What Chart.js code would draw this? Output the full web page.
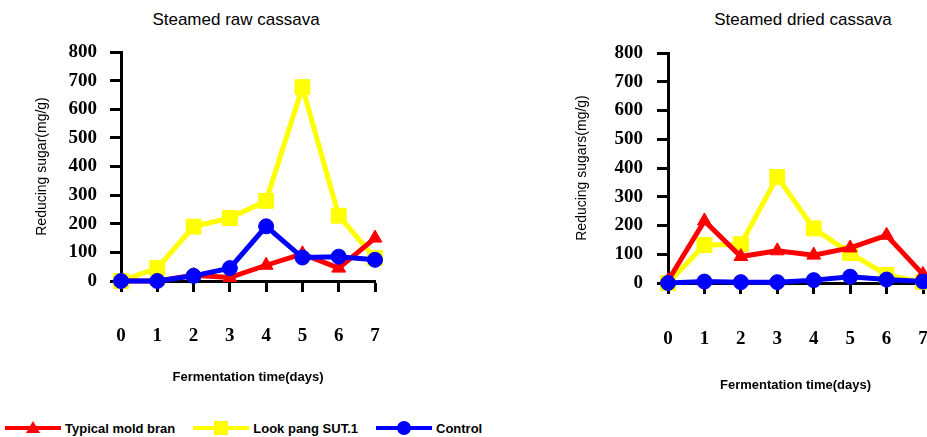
<!DOCTYPE html>
<html>
<head>
<meta charset="utf-8">
<title>Reducing sugar during fermentation</title>
<script src="https://cdn.jsdelivr.net/npm/chart.js@4.4.0/dist/chart.umd.min.js"></script>
<style>
    body { margin: 0; background: #fff; }
    #page {
        position: relative;
        width: 927px;
        height: 437px;
        overflow: hidden;
        font-family: "Liberation Sans", Arial, sans-serif;
        color: #000;
    }
    canvas { position: absolute; top: 0; }
    #rawChart { left: 0; }
    #driedChart { left: 527px; }
    .chart-title {
        position: absolute;
        top: 10px;
        line-height: 20px;
        font-size: 17px;
        white-space: nowrap;
        transform: translateX(-50%);
    }
    #rawTitle { left: 236px; }
    #driedTitle { left: 803px; }
    #legend {
        position: absolute;
        left: 5px;
        top: 419px;
        height: 18px;
        display: flex;
        align-items: center;
        font-size: 13px;
        font-weight: bold;
    }
    .legend-item { display: flex; align-items: center; margin-right: 18px; }
    .legend-item svg { margin-right: 4px; }
</style>
</head>
<body>
<div id="page">
    <div class="chart-title" id="rawTitle">Steamed raw cassava</div>
    <div class="chart-title" id="driedTitle">Steamed dried cassava</div>
    <canvas id="rawChart" width="470" height="400"></canvas>
    <canvas id="driedChart" width="400" height="400"></canvas>
    <div id="legend"></div>
</div>

<script>
// Data
const days = ['0', '1', '2', '3', '4', '5', '6', '7'];

const seriesNames = ['Typical mold bran', 'Look pang SUT.1', 'Control'];
const seriesColors = ['#ff0000', '#ffff00', '#0000ff'];
const seriesMarkers = ['triangle', 'rect', 'circle'];

// Steamed raw cassava
const rawMoldBran = [0, 0, 20, 12, 55, 95, 45, 150];
const rawLookPang = [0, 45, 190, 220, 280, 677, 228, 80];
const rawControl = [0, 0, 18, 45, 191, 82, 85, 74];

// Steamed dried cassava
const driedMoldBran = [8, 216, 92, 112, 97, 122, 166, 30];
const driedLookPang = [0, 132, 135, 369, 190, 104, 28, 3];
const driedControl = [0, 5, 3, 3, 10, 22, 12, 5];

const yMin = 0;
const yMax = 800;
const yStep = 100;

// Styling
const markerRadius = [8, 10.5, 7.5];
const drawOrder = [1, 2, 0]; // blue on top, yellow at the bottom

const tickFont = { family: '"Liberation Serif", "Times New Roman", serif', weight: 'bold', size: 19 };
const sansFont = '"Liberation Sans", Arial, sans-serif';

function buildChart(id, values, yTitle, layout) {
    const ctx = document.getElementById(id).getContext('2d');
    return new Chart(ctx, {
        type: 'line',
        data: {
            labels: days,
            datasets: seriesNames.map((name, i) => ({
                label: name,
                data: values[i],
                borderColor: seriesColors[i],
                backgroundColor: seriesColors[i],
                pointBackgroundColor: seriesColors[i],
                pointBorderColor: seriesColors[i],
                pointStyle: seriesMarkers[i],
                pointRadius: markerRadius[i],
                pointBorderWidth: 1,
                borderWidth: 5,
                tension: 0,
                clip: false,
                order: drawOrder[i]
            }))
        },
        options: {
            responsive: false,
            animation: false,
            events: [],
            layout: {
                autoPadding: false,
                padding: { top: layout.top, right: layout.right, left: 0, bottom: 0 }
            },
            plugins: {
                legend: { display: false },
                tooltip: { enabled: false }
            },
            scales: {
                x: {
                    grid: { drawOnChartArea: false, tickLength: 11, tickWidth: 3, tickColor: '#000' },
                    border: { color: '#000', width: 3 },
                    ticks: { color: '#000', font: tickFont, padding: layout.xTickPad, maxRotation: 0, autoSkip: false },
                    title: {
                        display: true,
                        text: 'Fermentation time(days)',
                        color: '#000',
                        font: { family: sansFont, size: 13, weight: 'bold' },
                        padding: { top: 0, bottom: layout.xTitlePad }
                    },
                    afterFit: scale => {
                        // the big tick padding would otherwise be added left and right too
                        scale.height = layout.height - layout.bottom;
                        scale.paddingLeft = 0;
                        scale.paddingRight = 0;
                    }
                },
                y: {
                    min: yMin,
                    max: yMax,
                    grid: { drawOnChartArea: false, tickLength: 11, tickWidth: 3, tickColor: '#000' },
                    border: { color: '#000', width: 3 },
                    ticks: { stepSize: yStep, color: '#000', font: tickFont, padding: layout.yTickPad },
                    title: {
                        display: true,
                        text: yTitle,
                        color: '#000',
                        font: { family: sansFont, size: 14 },
                        padding: { top: layout.yTitlePad, bottom: 0 }
                    },
                    afterFit: scale => { scale.width = layout.left; }
                }
            }
        }
    });
}

buildChart('rawChart', [rawMoldBran, rawLookPang, rawControl], 'Reducing sugar(mg/g)', {
    height: 400, top: 52, bottom: 281, left: 121, right: 95,
    xTickPad: 33, xTitlePad: 15, yTickPad: 13, yTitlePad: 34
});

buildChart('driedChart', [driedMoldBran, driedLookPang, driedControl], 'Reducing sugars(mg/g)', {
    height: 400, top: 53, bottom: 283, left: 141, right: 4,
    xTickPad: 34, xTitlePad: 7, yTickPad: 14, yTitlePad: 47
});

// Legend: line sample with the series marker in the middle
const legend = document.getElementById('legend');
const svgNS = 'http://www.w3.org/2000/svg';
seriesNames.forEach((name, i) => {
    const item = document.createElement('div');
    item.className = 'legend-item';

    const svg = document.createElementNS(svgNS, 'svg');
    svg.setAttribute('width', 56);
    svg.setAttribute('height', 18);
    const line = document.createElementNS(svgNS, 'line');
    line.setAttribute('x1', 0);
    line.setAttribute('x2', 56);
    line.setAttribute('y1', 9);
    line.setAttribute('y2', 9);
    line.setAttribute('stroke', seriesColors[i]);
    line.setAttribute('stroke-width', 4);
    svg.appendChild(line);

    let marker;
    if (seriesMarkers[i] === 'triangle') {
        marker = document.createElementNS(svgNS, 'polygon');
        marker.setAttribute('points', '28,2 35,14 21,14');
    } else if (seriesMarkers[i] === 'rect') {
        marker = document.createElementNS(svgNS, 'rect');
        marker.setAttribute('x', 21);
        marker.setAttribute('y', 2);
        marker.setAttribute('width', 14);
        marker.setAttribute('height', 14);
    } else {
        marker = document.createElementNS(svgNS, 'circle');
        marker.setAttribute('cx', 28);
        marker.setAttribute('cy', 9);
        marker.setAttribute('r', 7);
    }
    marker.setAttribute('fill', seriesColors[i]);
    svg.appendChild(marker);

    const label = document.createElement('span');
    label.textContent = name;

    item.appendChild(svg);
    item.appendChild(label);
    legend.appendChild(item);
});
</script>
</body>
</html>
